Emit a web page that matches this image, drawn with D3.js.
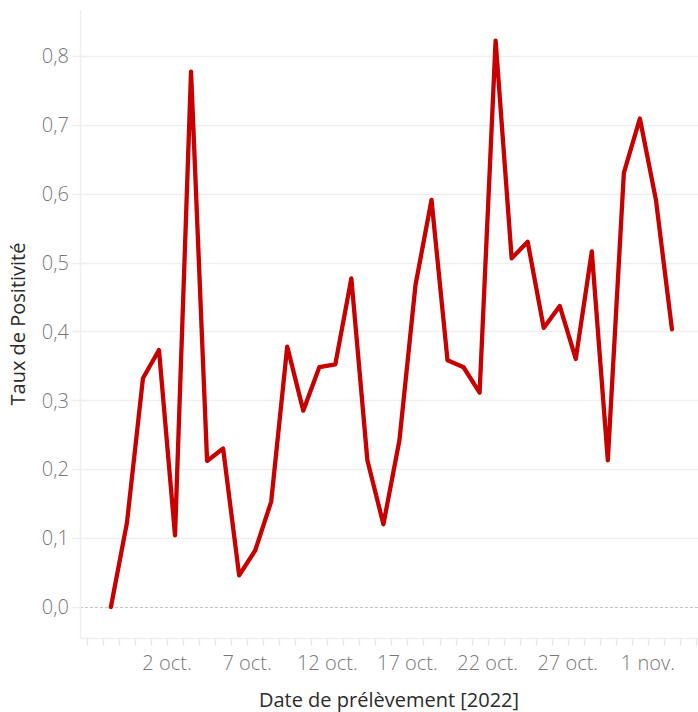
<!DOCTYPE html>
<html>
<head>
<meta charset="utf-8">
<script src="https://cdn.jsdelivr.net/npm/d3@7"></script>
<style>
	body { margin: 0; background: #fff; }
	svg { display: block; font-family: "Open Sans", "Noto Sans", sans-serif; }
</style>
</head>
<body>
<svg id="chart" width="698" height="712"></svg>
<script>
// one value per sampling day, 28 sept. -> 2 nov. 2022
var dates = [
	"2022-09-28", "2022-09-29", "2022-09-30", "2022-10-01", "2022-10-02", "2022-10-03",
	"2022-10-04", "2022-10-05", "2022-10-06", "2022-10-07", "2022-10-08", "2022-10-09",
	"2022-10-10", "2022-10-11", "2022-10-12", "2022-10-13", "2022-10-14", "2022-10-15",
	"2022-10-16", "2022-10-17", "2022-10-18", "2022-10-19", "2022-10-20", "2022-10-21",
	"2022-10-22", "2022-10-23", "2022-10-24", "2022-10-25", "2022-10-26", "2022-10-27",
	"2022-10-28", "2022-10-29", "2022-10-30", "2022-10-31", "2022-11-01", "2022-11-02"
];
var tauxPositivite = [
	0.000, 0.122, 0.332, 0.373, 0.104, 0.777,
	0.212, 0.230, 0.046, 0.082, 0.153, 0.378,
	0.285, 0.348, 0.352, 0.477, 0.213, 0.120,
	0.242, 0.467, 0.591, 0.358, 0.348, 0.311,
	0.822, 0.506, 0.530, 0.405, 0.437, 0.360,
	0.516, 0.213, 0.630, 0.709, 0.591, 0.403
];
var yTicks = [0, 0.1, 0.2, 0.3, 0.4, 0.5, 0.6, 0.7, 0.8];
var xTickDates = ["2022-10-02", "2022-10-07", "2022-10-12", "2022-10-17", "2022-10-22", "2022-10-27", "2022-11-01"];
var moisFr = ["janv.", "févr.", "mars", "avr.", "mai", "juin", "juil.", "août", "sept.", "oct.", "nov.", "déc."];

var parse = d3.utcParse("%Y-%m-%d");
var aData = dates.map(function (s, i) {
	// marks sit in the middle of the day
	return {date: d3.utcHour.offset(parse(s), 12), value: tauxPositivite[i]};
});

var svg = d3.select("#chart"),
	iLeft = 80, iRight = 698, iTop = 10, iBottom = 638;

var x = d3.scaleUtc()
	.domain([new Date(Date.UTC(2022, 8, 26, 13, 45)), new Date(Date.UTC(2022, 10, 4, 3, 0))])
	.range([iLeft, iRight]);
var y = d3.scaleLinear()
	.domain([-0.045, 0.8665])
	.range([iBottom, iTop]);

var fmtY = function (v) { return d3.format(".1f")(v).replace(".", ","); };
var fmtX = function (d) { return d.getUTCDate() + " " + moisFr[d.getUTCMonth()]; };

// gridlines
svg.append("g").selectAll("line")
	.data(yTicks.filter(function (v) { return v !== 0; }))
	.enter().append("line")
	.attr("x1", iLeft - 8).attr("x2", iRight)
	.attr("y1", function (d) { return Math.round(y(d)) + 0.5; })
	.attr("y2", function (d) { return Math.round(y(d)) + 0.5; })
	.attr("stroke", "#efefef").attr("stroke-width", 1.5);

svg.append("line")
	.attr("x1", iLeft - 8).attr("x2", iLeft)
	.attr("y1", Math.round(y(0)) + 0.5).attr("y2", Math.round(y(0)) + 0.5)
	.attr("stroke", "#efefef").attr("stroke-width", 1.5);
svg.append("line")
	.attr("x1", iLeft).attr("x2", iRight)
	.attr("y1", Math.round(y(0)) + 0.5).attr("y2", Math.round(y(0)) + 0.5)
	.attr("stroke", "#c4c4c4").attr("stroke-width", 1)
	.attr("stroke-dasharray", "3,2");

// axis frame
svg.append("line")
	.attr("x1", iLeft + 0.5).attr("x2", iLeft + 0.5)
	.attr("y1", iTop).attr("y2", iBottom)
	.attr("stroke", "#efefef").attr("stroke-width", 1.5);
svg.append("line")
	.attr("x1", iLeft).attr("x2", iRight)
	.attr("y1", iBottom + 0.5).attr("y2", iBottom + 0.5)
	.attr("stroke", "#efefef").attr("stroke-width", 1.5);

// daily ticks
svg.append("g").selectAll("line")
	.data(d3.utcDay.range(x.domain()[0], x.domain()[1]))
	.enter().append("line")
	.attr("x1", function (d) { return Math.round(x(d)) + 0.5; })
	.attr("x2", function (d) { return Math.round(x(d)) + 0.5; })
	.attr("y1", iBottom).attr("y2", iBottom + 8)
	.attr("stroke", "#e8e8e8").attr("stroke-width", 1.5);

// y labels
svg.append("g").selectAll("text")
	.data(yTicks)
	.enter().append("text")
	.attr("x", 69)
	.attr("y", function (d) { return y(d); })
	.attr("dy", "0.36em")
	.attr("text-anchor", "end")
	.attr("font-size", 20)
	.attr("font-weight", 300)
	.attr("fill", "#777")
	.text(fmtY);

// x labels
svg.append("g").selectAll("text")
	.data(xTickDates.map(parse))
	.enter().append("text")
	.attr("x", function (d) { return x(d); })
	.attr("y", 670)
	.attr("text-anchor", "middle")
	.attr("font-size", 20)
	.attr("font-weight", 300)
	.attr("fill", "#777")
	.text(fmtX);

// axis titles
svg.append("text")
	.attr("transform", "translate(25," + ((iTop + iBottom) / 2) + ") rotate(-90)")
	.attr("text-anchor", "middle")
	.attr("font-size", 20)
	.attr("fill", "#2b2b2b")
	.text("Taux de Positivité");
svg.append("text")
	.attr("x", (iLeft + iRight) / 2)
	.attr("y", 707)
	.attr("text-anchor", "middle")
	.attr("font-size", 20)
	.attr("fill", "#2b2b2b")
	.text("Date de prélèvement [2022]");

// the series
var line = d3.line()
	.x(function (d) { return x(d.date); })
	.y(function (d) { return y(d.value); });

svg.append("path")
	.datum(aData)
	.attr("d", line)
	.attr("fill", "none")
	.attr("stroke", "#c80000")
	.attr("stroke-width", 4.3)
	.attr("stroke-linejoin", "round")
	.attr("stroke-linecap", "round");
</script>
</body>
</html>
